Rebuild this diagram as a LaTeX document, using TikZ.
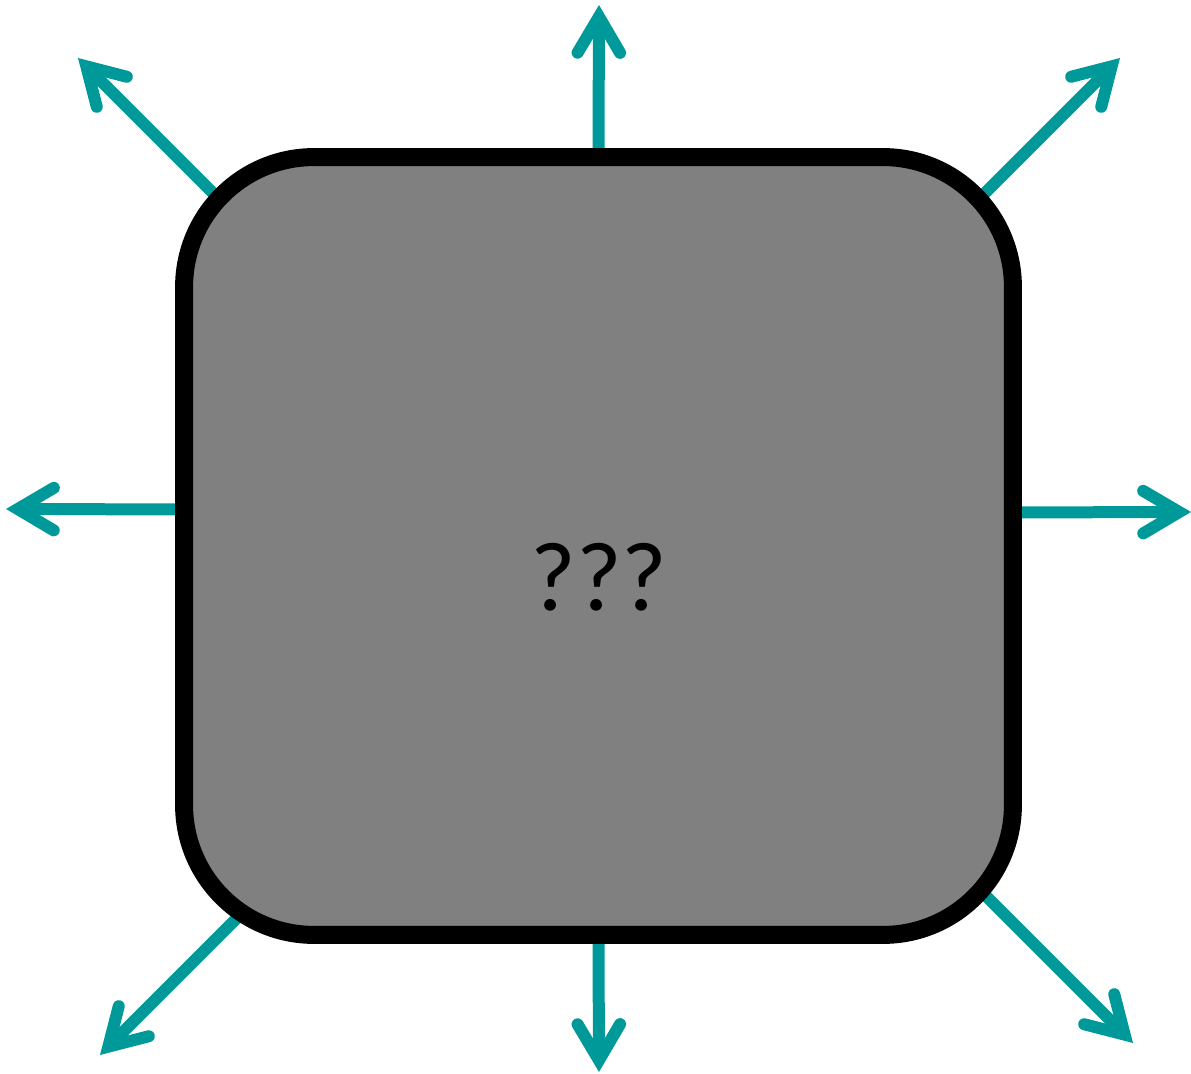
\documentclass[tikz,border=0pt]{standalone}
\usepackage{fontspec}
\setmainfont{Carlito}
\usepackage{xcolor}
\usepackage{tikz}
\usetikzlibrary{
  positioning,
  arrows.meta
}
\definecolor{tealarrow}{HTML}{009999}
\definecolor{boxgray}{HTML}{808080}

\begin{document}
\begin{tikzpicture}[
  x=0.02cm, y=-0.02cm,
  >={Straight Barb[length=0.72cm, width=0.85cm, line cap=round, line join=miter]},
  outarrow/.style={tealarrow, line width=0.24cm, ->},
  bigbox/.style={draw=black, fill=boxgray, line width=0.36cm,
    rounded corners=2.6cm, minimum width=16.58cm, minimum height=15.56cm,
    inner sep=0pt}
]
  \useasboundingbox (0,0) rectangle (1191,1074);
  % arrow ends
  \coordinate (n) at (599,5);
  \coordinate (s) at (599,1072);
  \coordinate (w) at (6,509);
  \coordinate (e) at (1191,512);
  \coordinate (nw) at (78,58);
  \coordinate (ne) at (1120,58);
  \coordinate (sw) at (100,1055);
  \coordinate (se) at (1133,1043);
  % arrow starts, hidden below the box
  \coordinate (n0) at (598,300);
  \coordinate (s0) at (598,800);
  \coordinate (w0) at (400,510);
  \coordinate (e0) at (800,513);
  \coordinate (nw0) at (307,287);
  \coordinate (ne0) at (891,287);
  \coordinate (sw0) at (365,790);
  \coordinate (se0) at (880,790);
  \foreach \a in {n,s,w,e,nw,ne,sw,se}
    \draw[outarrow] (\a0) -- (\a);
  \node[bigbox] (box) at (598.5,546) {};
  \node[font=\fontsize{56}{64}\selectfont, inner sep=0pt] (qm) at (599,577) {???};
\end{tikzpicture}
\end{document}
